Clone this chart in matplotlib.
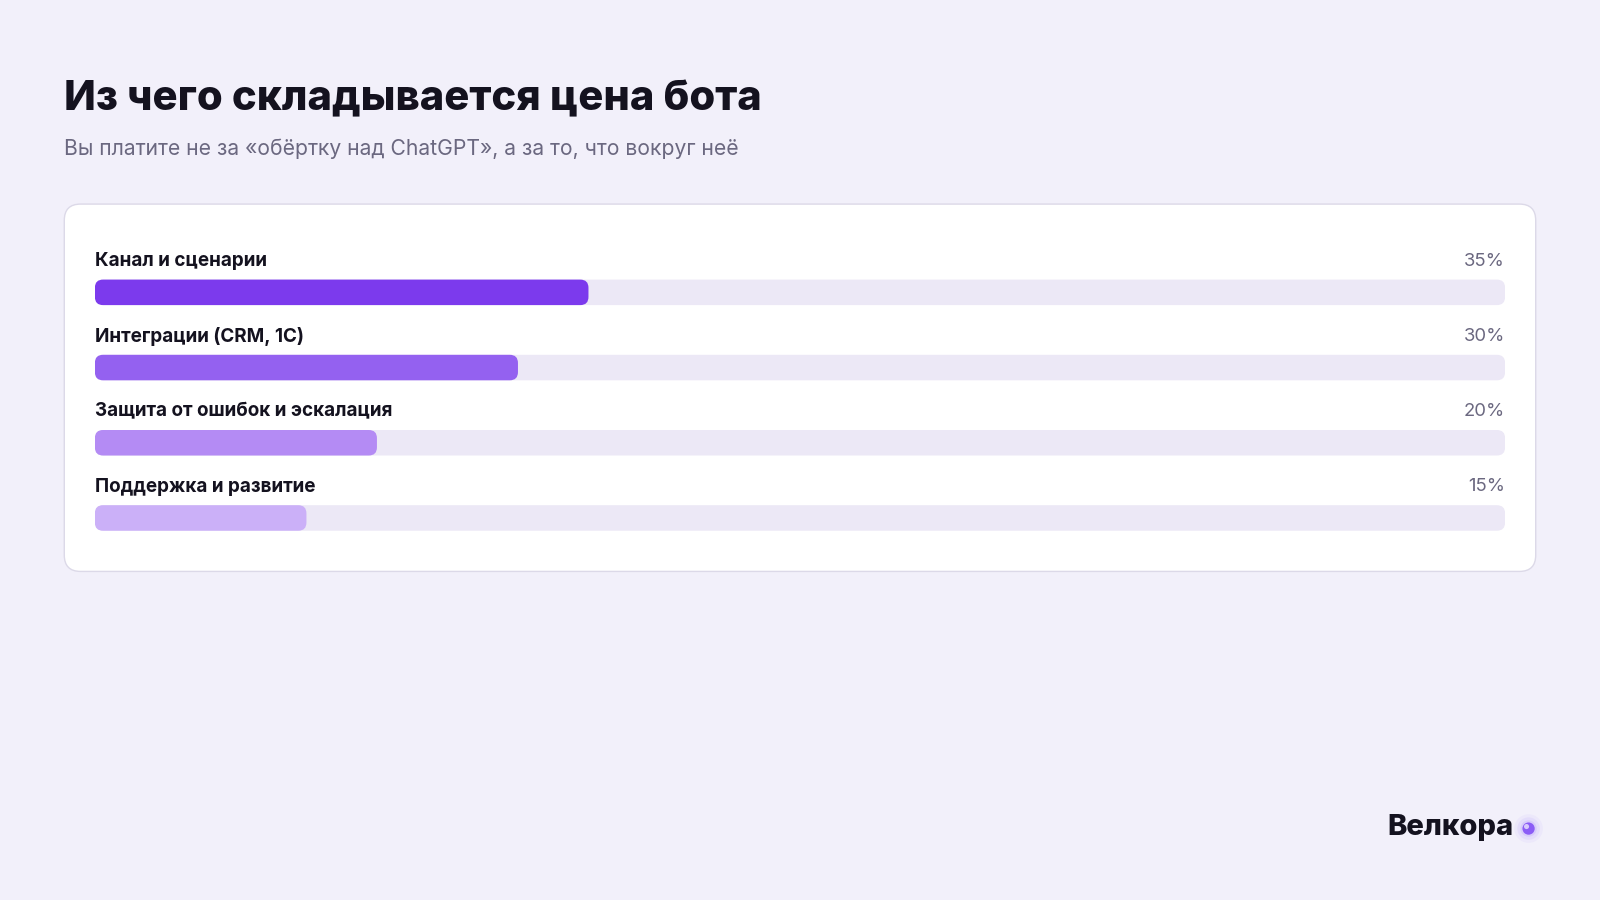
import matplotlib
matplotlib.use("Agg")
import matplotlib.pyplot as plt
from matplotlib.patches import FancyBboxPatch, Circle

categories = ["Канал и сценарии", "Интеграции (CRM, 1С)", "Защита от ошибок и эскалация", "Поддержка и развитие"]
values = [35, 30, 20, 15]
colors = ["#7c3aed", "#9461f0", "#b48bf4", "#cbb0f8"]
title = "Из чего складывается цена бота"
subtitle = "Вы платите не за «обёртку над ChatGPT», а за то, что вокруг неё"
brand = "Велкора"

plt.rcParams['font.family'] = ['Inter', 'DejaVu Sans']
W, H = 1568, 882
fig = plt.figure(figsize=(16, 9), dpi=100)
fig.patch.set_facecolor("#f2f0fa")
ax0 = fig.add_axes([0, 0, 1, 1])
ax0.set_xlim(0, W); ax0.set_ylim(H, 0); ax0.axis("off")

ax0.text(63, 97, title, fontsize=30, fontweight="heavy", color="#14121f", va="center")
ax0.text(63, 146, subtitle, fontsize=15.2, color="#6b6880", va="center")
card = FancyBboxPatch((63, 200), 1442, 360, boxstyle="round,pad=0,rounding_size=16",
                      fc="white", ec="#dcd9e8", lw=1)
ax0.add_patch(card)
ax0.text(1483, 811, brand, fontsize=21, fontweight="heavy", color="#14121f", va="center", ha="right")
for r, a in [(14, 0.08), (11, 0.12), (8, 0.2)]:
    ax0.add_patch(Circle((1498, 812), r, color="#a78bfa", alpha=a, lw=0))
ax0.add_patch(Circle((1498, 812), 6, color="#8b5cf6", lw=0))
ax0.add_patch(Circle((1496, 810), 2.5, color="#d8c8fc", lw=0))

x0, x1 = 93, 1475
ax = fig.add_axes([x0 / W, 0, (x1 - x0) / W, 1])
ax.set_xlim(0, 100); ax.set_ylim(H, 0); ax.axis("off")
pxu = (x1 - x0) / 100.0
r = 8 / pxu
asp = pxu
bar_h = 25
for i, (c, v, col) in enumerate(zip(categories, values, colors)):
    yt = 274 + i * 73.7
    ax.add_patch(FancyBboxPatch((0, yt), 100, bar_h, boxstyle=f"round,pad=0,rounding_size={r}",
                                mutation_aspect=asp, fc="#ece8f6", ec="none"))
    ax.add_patch(FancyBboxPatch((0, yt), v, bar_h, boxstyle=f"round,pad=0,rounding_size={r}",
                                mutation_aspect=asp, fc=col, ec="none"))
    ax.text(0, yt - 18, c, fontsize=13.6, fontweight="bold", color="#14121f", va="center")
    ax.text(100, yt - 18, f"{v}%", fontsize=13.3, color="#6b6880", va="center", ha="right")

fig.savefig("out.png", dpi=100, facecolor=fig.get_facecolor())
